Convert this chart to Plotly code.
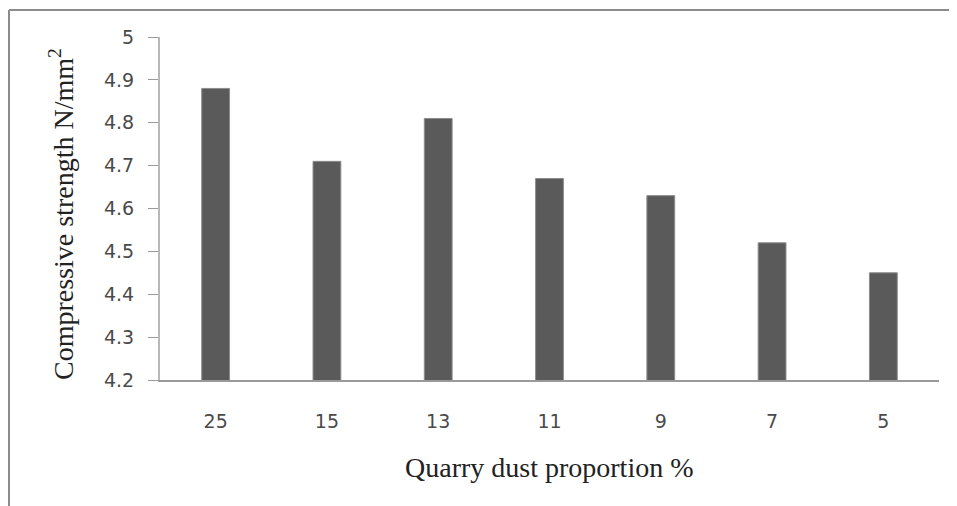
import plotly.graph_objects as go

categories = ["25", "15", "13", "11", "9", "7", "5"]
strength = [4.88, 4.71, 4.81, 4.67, 4.63, 4.52, 4.45]
y_ticks = [4.2, 4.3, 4.4, 4.5, 4.6, 4.7, 4.8, 4.9, 5.0]
y_tick_text = ["4.2", "4.3", "4.4", "4.5", "4.6", "4.7", "4.8", "4.9", "5"]

# page has 8px body margin; work in page coordinates, convert to figure coords
OFF = 8
W, H = 957 - OFF, 506 - OFF
L, R, T, B = 160 - OFF, 18, 37 - OFF, 126
pw, ph = W - L - R, H - T - B

def px(xpage):
    return (xpage - OFF - L) / pw

def py(ypage):
    return (H - B - (ypage - OFF)) / ph

fig = go.Figure(go.Bar(
    x=categories, y=strength,
    marker=dict(color="#5a5a5a", line=dict(color="#8c8c8c", width=1)),
))

fig.update_layout(
    width=W, height=H,
    margin=dict(l=L, r=R, t=T, b=B),
    paper_bgcolor="white", plot_bgcolor="white",
    bargap=0.75, showlegend=False,
    xaxis=dict(type="category", showline=True, linecolor="#9a9a9a", linewidth=1.5,
               ticks="", showgrid=False, ticklabelstandoff=23,
               tickfont=dict(family="DejaVu Sans", size=19, color="#4a4a4a")),
    yaxis=dict(range=[4.2, 5.0], tickvals=y_ticks, ticktext=y_tick_text,
               showline=True, linecolor="#b8b8b8", linewidth=2,
               ticks="outside", ticklen=10, tickcolor="#9a9a9a", tickwidth=1,
               showgrid=False, zeroline=False, ticklabelstandoff=10,
               tickfont=dict(family="DejaVu Sans", size=19, color="#4a4a4a")),
    annotations=[
        dict(text="Quarry dust proportion %", xref="paper", yref="paper",
             x=px(549), y=py(467), showarrow=False, xanchor="center", yanchor="middle",
             font=dict(family="Liberation Serif", size=28, color="#222222")),
        dict(text="Compressive strength N/mm<sup>2</sup>", xref="paper", yref="paper",
             x=px(61), y=py(214), showarrow=False, xanchor="center", yanchor="middle",
             textangle=-90,
             font=dict(family="Liberation Serif", size=28, color="#222222")),
    ],
    shapes=[
        dict(type="line", xref="paper", yref="paper", x0=px(9), x1=px(9), y0=py(10), y1=py(520),
             line=dict(color="#8c8c8c", width=2)),
        dict(type="line", xref="paper", yref="paper", x0=px(9), x1=px(970), y0=py(10), y1=py(10),
             line=dict(color="#8c8c8c", width=2)),
    ],
)

fig.write_html("out.html")
